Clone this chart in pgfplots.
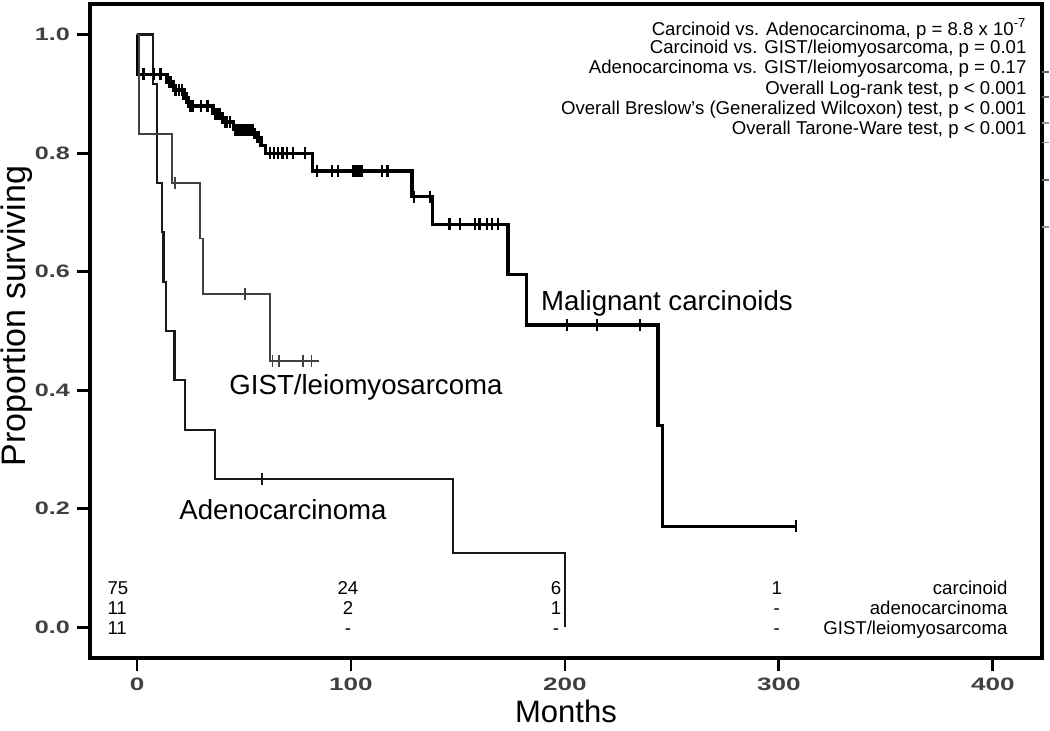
\documentclass[border=0pt]{standalone}
\usepackage{fontspec}
\setmainfont{Liberation Sans}
\usepackage{graphicx}
\usepackage{pgfplots}
\pgfplotsset{compat=1.18}

\begin{document}
\begin{tikzpicture}
\begin{axis}[
  scale only axis, width=476pt, height=327pt,
  xmin=-22, xmax=423, ymin=-0.052, ymax=1.052,
  xtick={0,100,200,300,400}, ytick={0,0.2,0.4,0.6,0.8,1.0},
  xtick pos=bottom, ytick pos=left,
  tick align=outside, major tick length=6.5pt,
  major tick style={line width=1.4pt, black},
  axis line style={line width=2pt},
  /pgf/number format/assume math mode=true,
  xticklabel={\scalebox{1.45}[1]{\bfseries\pgfmathprintnumber{\tick}}},
  yticklabel={\scalebox{1.4}[1]{\bfseries\pgfmathprintnumber[fixed,fixed zerofill,precision=1]{\tick}}},
  ticklabel style={font=\fontsize{9}{10}\selectfont, text=black!75},
  xlabel={Months}, ylabel={Proportion surviving},
  every axis x label/.style={at={(axis description cs:0.5,-0.0815)}, anchor=center,
    inner sep=0pt, font=\fontsize{15.5}{17}\selectfont},
  every axis y label/.style={at={(axis description cs:-0.0775,0.523)}, rotate=90, anchor=center,
    inner sep=0pt, font=\fontsize{17}{19}\selectfont},
  clip=false,
]

% malignant carcinoids
\addplot[const plot, line width=1.7pt, black] coordinates {
  (0,1.0) (0.5,0.933) (14,0.92) (17,0.907) (22,0.893) (24,0.88) (35.5,0.867)
  (40,0.853) (45,0.84) (55,0.827) (58,0.813) (60,0.80) (82,0.77) (128.5,0.727)
  (138,0.68) (173.4,0.595) (182,0.51) (243.5,0.34) (245.5,0.17) (308,0.17)};
\addplot[only marks, mark=|, mark size=3pt, mark options={line width=1.2pt}, black] coordinates {
  (3,0.933) (8,0.933) (11,0.933)
  (15,0.92) (16,0.92)
  (18,0.907) (19.5,0.907) (21,0.907)
  (22.8,0.893) (23.3,0.893)
  (25,0.88) (26,0.88) (30,0.88) (33,0.88)
  (36.5,0.867) (37.5,0.867) (38.5,0.867)
  (41,0.853) (42,0.853) (43.5,0.853)
  (46,0.84) (47,0.84) (48,0.84) (49,0.84) (50,0.84) (51,0.84) (52,0.84) (53,0.84) (54,0.84)
  (56,0.827) (57,0.827)
  (62,0.80) (64,0.80) (66,0.80) (68,0.80) (70,0.80) (73,0.80) (78.5,0.80)
  (84,0.77) (91,0.77) (94,0.77) (101,0.77) (102,0.77) (103,0.77) (104,0.77) (105,0.77) (114.5,0.77) (117,0.77)
  (129.5,0.727) (137,0.727)
  (146,0.68) (151,0.68) (158,0.68) (160,0.68) (163.5,0.68) (166,0.68) (168.7,0.68)
  (201,0.51) (215,0.51) (235,0.51)
  (308,0.17)};

% adenocarcinoma
\addplot[const plot, line width=1.3pt, black!90] coordinates {
  (0,1.0) (7.5,0.917) (9.3,0.75) (11.7,0.667) (12.4,0.583) (13.6,0.5) (17.5,0.417)
  (22.4,0.333) (36.4,0.25) (147.7,0.125) (200,0.0)};
\addplot[only marks, mark=|, mark size=3pt, mark options={line width=1.1pt}, black!90] coordinates {
  (58.4,0.25)};

% GIST/leiomyosarcoma
\addplot[const plot, line width=0.9pt, black!75] coordinates {
  (0,1.0) (0.9,0.833) (16.4,0.75) (29.4,0.656) (30.8,0.5625) (62.1,0.45) (85,0.45)};
\addplot[only marks, mark=|, mark size=3pt, mark options={line width=0.9pt}, black!75] coordinates {
  (17.8,0.75) (50.5,0.5625) (63.3,0.45) (66.5,0.45) (77.5,0.45) (81.5,0.45)};

% curve labels
\node[font=\fontsize{13.8}{16}\selectfont] at (axis cs:247.7,0.547) {Malignant carcinoids};
\node[font=\fontsize{13.8}{16}\selectfont] at (axis cs:107,0.404) {GIST/leiomyosarcoma};
\node[font=\fontsize{13.8}{16}\selectfont] at (axis cs:68.2,0.198) {Adenocarcinoma};

% test results
\begin{scope}[every node/.style={anchor=east, inner sep=0pt, font=\fontsize{9.3}{10}\selectfont}]
\node at (axis cs:415.9,1.010) {Carcinoid vs. Adenocarcinoma, p = 8.8 x 10\textsuperscript{-7}};
\node at (axis cs:415.9,0.976) {Carcinoid vs. GIST/leiomyosarcoma, p = 0.01};
\node at (axis cs:415.9,0.942) {Adenocarcinoma vs. GIST/leiomyosarcoma, p = 0.17};
\node at (axis cs:415.9,0.908) {Overall Log-rank test, p < 0.001};
\node at (axis cs:415.9,0.874) {Overall Breslow's (Generalized Wilcoxon) test, p < 0.001};
\node at (axis cs:415.9,0.840) {Overall Tarone-Ware test, p < 0.001};
\end{scope}

% numbers at risk
\begin{scope}[every node/.style={inner sep=0pt, anchor=base, font=\fontsize{9.3}{10}\selectfont}]
\node[anchor=base west] at (axis cs:-14,0.056) {75};
\node[anchor=base west] at (axis cs:-14,0.022) {11};
\node[anchor=base west] at (axis cs:-14,-0.012) {11};
\node at (axis cs:98.6,0.056) {24};
\node at (axis cs:98.6,0.022) {2};
\node at (axis cs:98.6,-0.012) {-};
\node at (axis cs:195.8,0.056) {6};
\node at (axis cs:195.8,0.022) {1};
\node at (axis cs:195.8,-0.012) {-};
\node at (axis cs:299,0.056) {1};
\node at (axis cs:299,0.022) {-};
\node at (axis cs:299,-0.012) {-};
\node[anchor=base east] at (axis cs:407,0.056) {carcinoid};
\node[anchor=base east] at (axis cs:407,0.022) {adenocarcinoma};
\node[anchor=base east] at (axis cs:407,-0.012) {GIST/leiomyosarcoma};
\end{scope}

% stray marks outside the right border
\draw[black!60, line width=0.8pt] (axis cs:423,0.9375) -- (axis cs:426.5,0.9375);
\draw[black!60, line width=0.8pt] (axis cs:423,0.895) -- (axis cs:426.5,0.895);
\draw[black!40, line width=0.8pt] (axis cs:423,0.851) -- (axis cs:426.5,0.851);
\draw[black!40, line width=0.8pt] (axis cs:423,0.818) -- (axis cs:426.5,0.818);
\draw[black!60, line width=0.8pt] (axis cs:423,0.755) -- (axis cs:426.5,0.755);
\draw[black!40, line width=0.8pt] (axis cs:423,0.676) -- (axis cs:426.5,0.676);
\end{axis}
\pgfresetboundingbox
\path (-45pt,-36.5pt) rectangle (480pt,329pt);
\end{tikzpicture}
\end{document}
